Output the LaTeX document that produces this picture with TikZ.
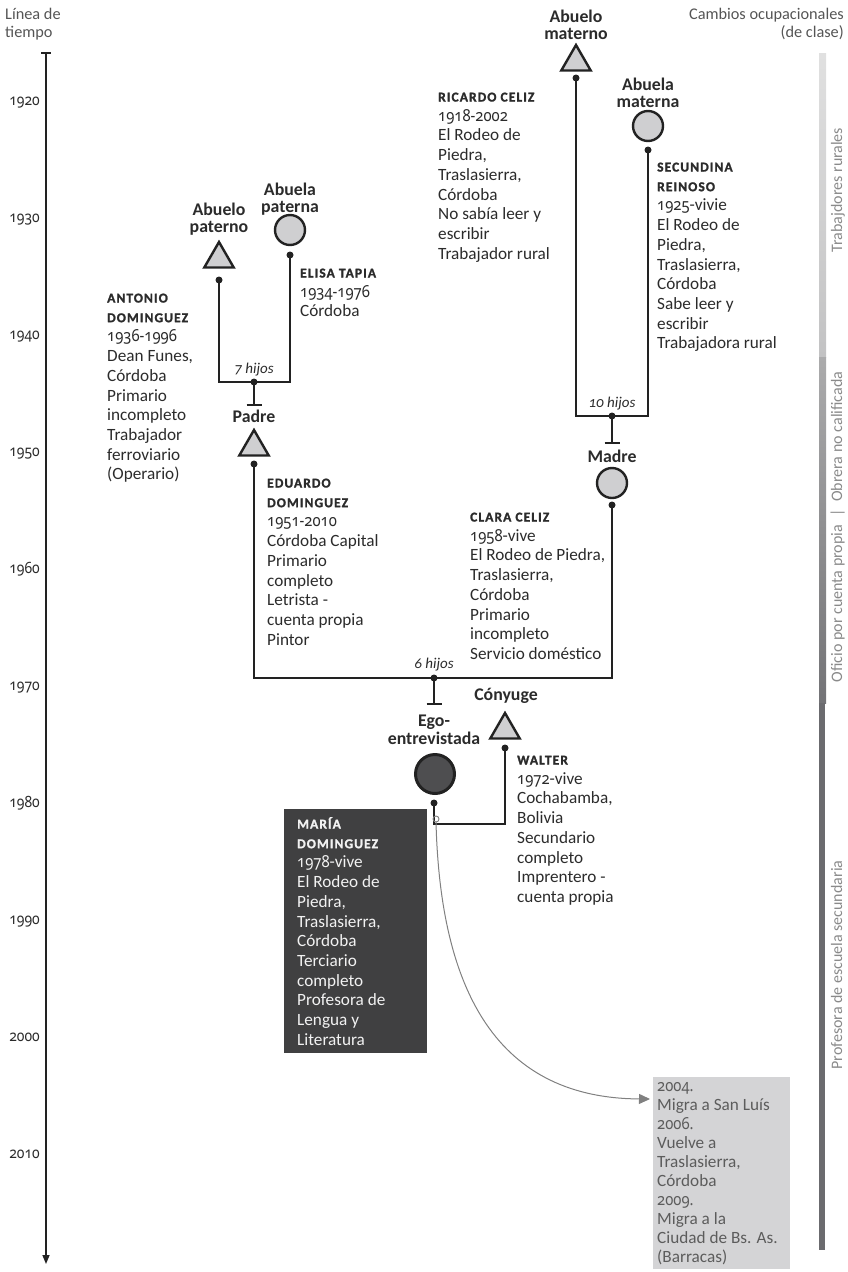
\documentclass[tikz,border=0pt]{standalone}
\usepackage{fontspec}
\setmainfont{Carlito}[Numbers=OldStyle]
\newfontfamily\bodyfont{Carlito}[Numbers=OldStyle]
\newfontfamily\capsfont{Carlito}[LetterSpace=8,FakeBold=1.5]
\newfontfamily\lblfont{Carlito}
\newfontfamily\numfont{Noto Sans}[Numbers=OldStyle,FakeStretch=0.9]
\usetikzlibrary{shapes.geometric,arrows.meta}

\definecolor{ink}{HTML}{2B2B2B}
\definecolor{ln}{HTML}{222222}
\definecolor{shp}{HTML}{CFCFD1}
\definecolor{egofill}{HTML}{4E4E50}
\definecolor{boxdark}{HTML}{404041}
\definecolor{boxlight}{HTML}{D4D4D6}
\definecolor{migr}{HTML}{808080}
\definecolor{sidegray}{HTML}{8A8A8A}
\definecolor{headgray}{HTML}{555555}
\definecolor{barA}{HTML}{E0E0E0}
\definecolor{barB}{HTML}{C2C2C3}
\definecolor{barC}{HTML}{ABABAC}
\definecolor{barD}{HTML}{737376}
\definecolor{barE}{HTML}{6B6B6F}
\definecolor{boxtext}{HTML}{5C5C5C}
\definecolor{whitetext}{HTML}{F2F2F2}

\newcommand\nm[1]{{\capsfont\bfseries\fontsize{13.5}{19.7}\selectfont #1}}
\newcommand\yrs[1]{{\numfont\fontsize{16.5}{19.7}\selectfont #1}}

\tikzset{
  conn/.style={draw=ln, line width=2.2pt},
  tri/.style={regular polygon, regular polygon sides=3, minimum size=34pt, inner sep=0pt, fill=shp, draw=ln, line width=2.4pt},
  circ/.style={circle, minimum size=30pt, inner sep=0pt, fill=shp, draw=ln, line width=2.4pt},
  dot/.style={circle, fill=ln, inner sep=0pt, minimum size=7pt},
  info/.style={inner sep=0pt, anchor=base west, text=ink, font=\bodyfont\fontsize{17.2}{19.7}\selectfont},
  lbl/.style={inner sep=0pt, anchor=base, text=ink, font=\lblfont\bfseries\fontsize{17.8}{16.8}\selectfont},
  kids/.style={inner sep=0pt, anchor=base, text=ink, font=\bodyfont\itshape\fontsize{15}{15}\selectfont},
  year/.style={inner sep=0pt, anchor=base east, text=ink, font=\numfont\fontsize{15.5}{16}\selectfont},
  side/.style={inner sep=0pt, anchor=base, rotate=90, text=sidegray, font=\bodyfont\fontsize{16}{16}\selectfont},
  head/.style={inner sep=0pt, text=headgray, font=\bodyfont\fontsize{16.3}{18.5}\selectfont},
}

\begin{document}
\begin{tikzpicture}[x=1pt, y=-1pt]
\useasboundingbox (0,0) rectangle (847,1272);

% ---------------- headers
\node[head, anchor=base west] (hleft) at (5,19) {\begin{tabular}[t]{@{}l@{}}Línea de\\tiempo\end{tabular}};
\node[head, anchor=base east] (hright) at (844,19) {\begin{tabular}[t]{@{}r@{}}Cambios ocupacionales\\(de clase)\end{tabular}};

% ---------------- timeline
\coordinate (tltop) at (46,53);
\coordinate (tlbot) at (46,1264);
\draw[ln, line width=1.4pt, -{Triangle[length=9pt,width=7pt]}] (tltop) -- (tlbot);
\draw[ln, line width=1.4pt] ([xshift=-5pt]tltop) -- ([xshift=5pt]tltop);
\foreach \yr [count=\i from 0] in {1920,1930,1940,1950,1960,1970,1980,1990,2000,2010}{
  \node[year] (yr\yr) at (40,{105+117*\i}) {\yr};
}

% ---------------- right bar
\shade[top color=barA, bottom color=barB] (819,53) rectangle (826,357);
\shade[top color=barC, bottom color=barD] (819,357) rectangle (826,703);
\fill[barE] (819,703) rectangle (825,1250);
\node[side] (s1) at (842,190) {Trabajdores rurales};
\node[side] (s2) at (842,527) {Oficio por cuenta propia\enspace|\enspace Obrera no calificada};
\node[side] (s3) at (842,965) {Profesora de escuela secundaria};

% ---------------- paternal grandparents
\node[lbl] (lapat) at (219,215.5) {\begin{tabular}[t]{@{}c@{}}Abuelo\\paterno\end{tabular}};
\node[tri] (apat) at (219,259) {};
\node[dot] (dapat) at (219,280) {};
\node[lbl] (labpat) at (290,195.5) {\begin{tabular}[t]{@{}c@{}}Abuela\\paterna\end{tabular}};
\node[circ] (abpat) at (290,230) {};
\node[dot] (dabpat) at (290,255) {};
\node[dot] (m7) at (254,382) {};
\draw[conn] (dapat.center) |- (m7.center) -| (dabpat.center);
\node[kids] (k7) at (254,373) {7 hijos};
\coordinate (t7) at (254,405);
\draw[conn] (m7.center) -- (t7);
\draw[conn] ([xshift=-7.5pt]t7) -- ([xshift=7.5pt]t7);

\node[info] (antonio) at (107,302.5) {\begin{tabular}[t]{@{}l@{}}\nm{ANTONIO}\\\nm{DOMINGUEZ}\\\yrs{1936-1996}\\Dean Funes,\\Córdoba\\Primario\\incompleto\\Trabajador\\ferroviario\\(Operario)\end{tabular}};
\node[info] (elisa) at (300,277.5) {\begin{tabular}[t]{@{}l@{}}\nm{ELISA TAPIA}\\\yrs{1934-1976}\\Córdoba\end{tabular}};

% ---------------- padre
\node[lbl] (lpadre) at (254,422.5) {Padre};
\node[tri] (padre) at (254,447) {};
\node[dot] (dpadre) at (254,464) {};
\node[info] (eduardo) at (267,487.5) {\begin{tabular}[t]{@{}l@{}}\nm{EDUARDO}\\\nm{DOMINGUEZ}\\\yrs{1951-2010}\\Córdoba Capital\\Primario\\completo\\Letrista -\\cuenta propia\\Pintor\end{tabular}};

% ---------------- maternal grandparents
\node[lbl] (lamat) at (576,22.5) {\begin{tabular}[t]{@{}c@{}}Abuelo\\materno\end{tabular}};
\node[tri] (amat) at (576,62) {};
\node[dot] (damat) at (576,78) {};
\node[lbl] (labmat) at (648,90.5) {\begin{tabular}[t]{@{}c@{}}Abuela\\materna\end{tabular}};
\node[circ] (abmat) at (648,126) {};
\node[dot] (dabmat) at (648,150) {};
\node[dot] (m10) at (612,416) {};
\draw[conn] (damat.center) |- (m10.center) -| (dabmat.center);
\node[kids] (k10) at (612,407) {10 hijos};
\coordinate (t10) at (612,443);
\draw[conn] (m10.center) -- (t10);
\draw[conn] ([xshift=-7.5pt]t10) -- ([xshift=7.5pt]t10);

\node[info] (ricardo) at (438,101.5) {\begin{tabular}[t]{@{}l@{}}\nm{RICARDO CELIZ}\\\yrs{1918-2002}\\El Rodeo de\\Piedra,\\Traslasierra,\\Córdoba\\No sabía leer y\\escribir\\Trabajador rural\end{tabular}};
\node[info] (secundina) at (657,171.5) {\begin{tabular}[t]{@{}l@{}}\nm{SECUNDINA}\\\nm{REINOSO}\\\yrs{1925}-vivie\\El Rodeo de\\Piedra,\\Traslasierra,\\Córdoba\\Sabe leer y\\escribir\\Trabajadora rural\end{tabular}};

% ---------------- madre
\node[lbl] (lmadre) at (612,462.5) {Madre};
\node[circ] (madre) at (612,483) {};
\node[dot] (dmadre) at (612,505) {};
\node[info] (clara) at (470,521.5) {\begin{tabular}[t]{@{}l@{}}\nm{CLARA CELIZ}\\\yrs{1958}-vive\\El Rodeo de Piedra,\\Traslasierra,\\Córdoba\\Primario\\incompleto\\Servicio doméstico\end{tabular}};

% ---------------- parents union
\node[dot] (m6) at (434,678) {};
\draw[conn] (dpadre.center) |- (m6.center) -| (dmadre.center);
\node[kids] (k6) at (434,668) {6 hijos};
\coordinate (t6) at (434,704);
\draw[conn] (m6.center) -- (t6);
\draw[conn] ([xshift=-7.5pt]t6) -- ([xshift=7.5pt]t6);

% ---------------- ego and spouse
\node[lbl] (lego) at (434,726.5) {\begin{tabular}[t]{@{}c@{}}Ego-\\entrevistada\end{tabular}};
\node[circle, minimum size=39pt, inner sep=0pt, fill=egofill, draw=ln, line width=3pt] (ego) at (435,774) {};
\node[dot] (dego) at (434,803) {};
\node[lbl] (lconyuge) at (506,700.5) {Cónyuge};
\node[tri] (conyuge) at (505,730) {};
\node[dot] (dconyuge) at (505,748) {};
\coordinate (mego) at (434,824);
\draw[conn] (dego.center) -- (mego) -| (dconyuge.center);

\node[info] (walter) at (517,764.5) {\begin{tabular}[t]{@{}l@{}}\nm{WALTER}\\\yrs{1972}-vive\\Cochabamba,\\Bolivia\\Secundario\\completo\\Imprentero -\\cuenta propia\end{tabular}};

% ---------------- María box
\fill[boxdark] (284,809) rectangle (427,1053);
\node[info, text=whitetext] (maria) at (297,828.5) {\begin{tabular}[t]{@{}l@{}}\nm{MARÍA}\\\nm{DOMINGUEZ}\\\yrs{1978}-vive\\El Rodeo de\\Piedra,\\Traslasierra,\\Córdoba\\Terciario\\completo\\Profesora de\\Lengua y\\Literatura\end{tabular}};

% ---------------- migration
\fill[boxlight] (653,1077) rectangle (790,1269);
\node[info, text=boxtext, font=\bodyfont\fontsize{17.2}{19}\selectfont] (migbox) at (657,1091) {\begin{tabular}[t]{@{}l@{}}\yrs{2004.}\\Migra a San Luís\\\yrs{2006.}\\Vuelve a\\Traslasierra,\\Córdoba\\\yrs{2009.}\\Migra a la\\Ciudad de Bs. As.\\(Barracas)\end{tabular}};
\coordinate (mstart) at (436,822);
\coordinate (mend) at (650,1099);
\draw[migr, line width=0.9pt] (436,819) circle (3pt);
\draw[migr, line width=1pt, -{Triangle[length=11pt,width=10pt]}] (mstart) .. controls (440,980) and (490,1098) .. (mend);
\end{tikzpicture}
\end{document}
